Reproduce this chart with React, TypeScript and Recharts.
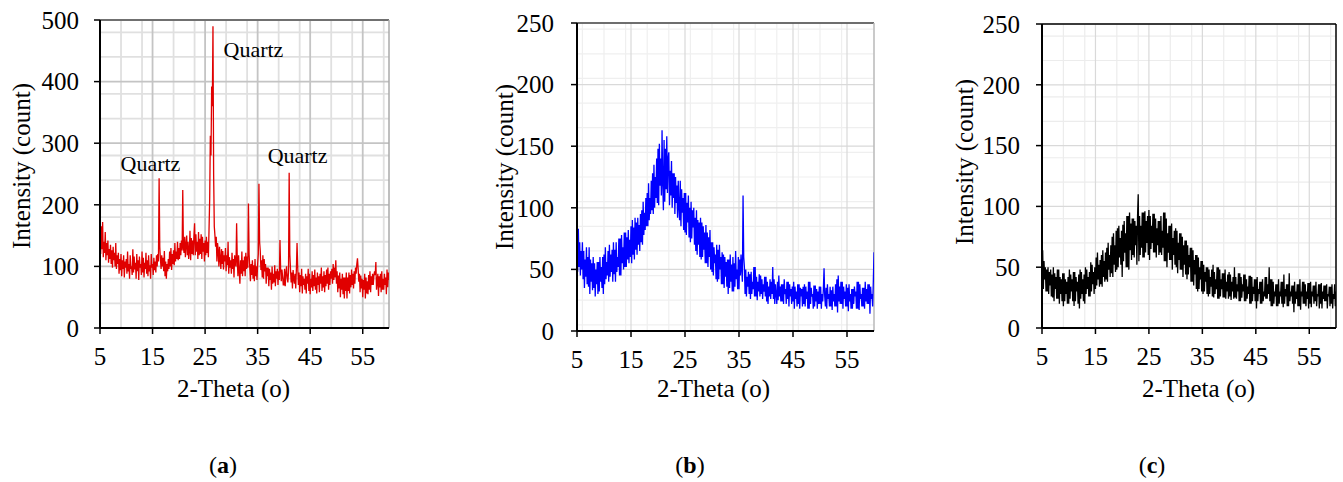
import {
  LineChart,
  Line,
  XAxis,
  YAxis,
  CartesianGrid,
  ReferenceLine,
  ReferenceDot,
  Label,
} from 'recharts';

const SERIF = '"Liberation Serif", "Times New Roman", serif';

// scan grid of the diffractometer (2-theta, degrees)
const SCAN_START = 5;
const SCAN_STEP = 0.125;

const X_TICKS = [5, 15, 25, 35, 45, 55];
const Y_TICKS_A = [0, 100, 200, 300, 400, 500];
const Y_TICKS_BC = [0, 50, 100, 150, 200, 250];

// (a) counts every 0.125 deg, one line per degree (5 .. 59), last value at 60
const INTENSITY_A = [
  150, 120, 165, 128, 172, 115, 140, 122,
  156, 110, 138, 118, 142, 106, 128, 112,
  135, 104, 126, 98, 132, 110, 122, 100,
  138, 96, 118, 104, 122, 88, 112, 94,
  120, 84, 110, 96, 118, 82, 108, 98,
  112, 88, 124, 92, 104, 80, 118, 96,
  100, 86, 128, 90, 116, 95, 106, 80,
  120, 92, 110, 78, 116, 98, 104, 86,
  124, 90, 114, 82, 106, 96, 122, 88,
  110, 84, 118, 92, 102, 80, 120, 98,
  104, 86, 114, 94, 108, 90, 118, 100,
  120, 108, 243, 132, 112, 96, 118, 100,
  114, 92, 125, 84, 108, 80, 104, 92,
  112, 96, 124, 100, 130, 94, 120, 104,
  126, 102, 138, 108, 124, 112, 140, 110,
  130, 112, 138, 118, 142, 126, 224, 130,
  122, 148, 115, 135, 150, 118, 140, 112,
  125, 158, 110, 146, 120, 142, 118, 150,
  170, 118, 152, 124, 140, 112, 156, 118,
  145, 120, 152, 112, 148, 124, 138, 108,
  142, 118, 148, 122, 140, 115, 160, 210,
  312, 280, 392, 360, 490, 250, 165, 150,
  132, 148, 108, 138, 125, 100, 132, 112,
  96, 128, 104, 125, 95, 118, 108, 130,
  92, 118, 102, 140, 88, 115, 98, 110,
  88, 122, 96, 112, 82, 118, 104, 100,
  170, 110, 84, 118, 92, 72, 110, 88,
  124, 84, 110, 92, 116, 84, 122, 96,
  116, 98, 202, 120, 98, 76, 104, 86,
  110, 80, 102, 76, 112, 84, 100, 78,
  104, 120, 234, 140, 125, 94, 110, 82,
  118, 80, 112, 92, 104, 72, 98, 84,
  98, 68, 96, 78, 90, 62, 100, 72,
  88, 74, 102, 68, 92, 80, 96, 70,
  92, 78, 143, 96, 76, 95, 84, 70,
  70, 96, 68, 88, 100, 82, 74, 90,
  252, 120, 96, 74, 90, 64, 94, 80,
  72, 88, 64, 96, 138, 100, 70, 90,
  58, 86, 68, 96, 56, 84, 70, 80,
  62, 88, 56, 84, 72, 96, 60, 88,
  55, 80, 66, 92, 60, 86, 68, 95,
  62, 82, 56, 90, 70, 84, 58, 88,
  72, 98, 60, 84, 66, 92, 58, 86,
  68, 95, 72, 98, 62, 88, 70, 92,
  80, 96, 72, 104, 78, 98, 82, 110,
  72, 92, 58, 85, 64, 90, 50, 80,
  62, 88, 55, 82, 48, 82, 60, 90,
  48, 82, 60, 90, 56, 86, 66, 95,
  70, 88, 64, 92, 72, 98, 88, 104,
  113, 96, 75, 88, 58, 85, 64, 80,
  50, 78, 62, 88, 48, 82, 56, 76,
  55, 86, 62, 92, 58, 84, 70, 88,
  70, 85, 92, 86, 107, 62, 74, 88,
  52, 84, 66, 88, 58, 92, 62, 80,
  62, 88, 70, 82, 55, 95, 66, 90,
  78,
];

// (b)
const INTENSITY_B = [
  68, 48, 83, 52, 72, 45, 65, 50,
  72, 42, 65, 35, 58, 44, 68, 38,
  60, 36, 68, 30, 58, 40, 55, 33,
  60, 35, 55, 28, 50, 38, 56, 30,
  56, 32, 60, 40, 52, 35, 60, 30,
  62, 38, 68, 42, 56, 45, 65, 40,
  70, 44, 62, 48, 66, 40, 72, 46,
  66, 40, 72, 48, 60, 52, 75, 45,
  75, 45, 78, 55, 68, 50, 80, 52,
  80, 52, 76, 58, 82, 55, 74, 60,
  85, 55, 90, 62, 84, 58, 92, 66,
  88, 62, 92, 70, 86, 65, 95, 72,
  98, 70, 105, 78, 96, 82, 108, 85,
  112, 85, 120, 90, 108, 95, 122, 98,
  128, 95, 135, 100, 125, 108, 140, 104,
  148, 102, 152, 118, 140, 110, 163, 120,
  98, 155, 105, 148, 115, 158, 112, 140,
  145, 102, 130, 110, 138, 100, 128, 108,
  128, 95, 125, 104, 118, 92, 122, 100,
  90, 122, 85, 115, 96, 108, 82, 112,
  80, 112, 78, 104, 88, 110, 76, 100,
  72, 105, 75, 98, 84, 100, 70, 92,
  65, 98, 62, 90, 70, 88, 60, 92,
  58, 88, 60, 85, 66, 80, 55, 86,
  55, 80, 52, 76, 60, 82, 50, 72,
  48, 72, 45, 68, 55, 62, 42, 70,
  40, 66, 42, 70, 50, 60, 38, 64,
  38, 62, 35, 60, 44, 56, 36, 58,
  30, 58, 35, 62, 40, 54, 32, 60,
  32, 55, 36, 65, 42, 50, 34, 60,
  34, 58, 45, 62, 50, 40, 110, 60,
  52, 30, 50, 28, 44, 36, 48, 30,
  46, 26, 48, 30, 40, 34, 52, 28,
  52, 28, 44, 25, 40, 32, 46, 28,
  45, 30, 42, 26, 38, 32, 44, 28,
  44, 24, 40, 22, 36, 28, 42, 26,
  40, 30, 52, 26, 42, 22, 38, 30,
  22, 40, 25, 45, 28, 36, 24, 38,
  24, 38, 22, 42, 30, 34, 22, 40,
  26, 40, 20, 38, 28, 34, 22, 36,
  24, 40, 18, 36, 26, 32, 20, 38,
  22, 38, 18, 35, 28, 34, 20, 36,
  22, 38, 20, 36, 26, 32, 18, 40,
  18, 40, 22, 35, 28, 30, 18, 37,
  20, 37, 24, 34, 18, 32, 22, 36,
  22, 36, 18, 30, 24, 34, 51, 28,
  20, 35, 18, 38, 26, 30, 20, 36,
  20, 33, 17, 36, 24, 30, 20, 38,
  20, 42, 15, 45, 24, 36, 22, 40,
  22, 40, 18, 36, 26, 32, 20, 38,
  20, 35, 16, 38, 24, 30, 18, 34,
  18, 34, 22, 36, 28, 32, 18, 40,
  18, 40, 17, 38, 26, 30, 20, 35,
  20, 35, 18, 40, 24, 34, 22, 38,
  22, 38, 14, 36, 26, 30, 20, 40,
  64,
];

// (c)
const INTENSITY_C = [
  45, 64, 32, 55, 40, 50, 30, 48,
  30, 50, 28, 46, 35, 48, 26, 44,
  25, 50, 22, 45, 32, 42, 24, 48,
  24, 48, 20, 42, 28, 40, 22, 45,
  18, 45, 22, 40, 28, 38, 20, 42,
  20, 48, 24, 44, 30, 40, 22, 46,
  18, 46, 22, 42, 30, 38, 20, 44,
  16, 48, 24, 46, 28, 40, 22, 44,
  20, 50, 28, 48, 32, 42, 26, 46,
  26, 54, 30, 52, 36, 46, 28, 50,
  32, 58, 35, 62, 40, 52, 34, 56,
  36, 60, 34, 64, 42, 55, 38, 62,
  40, 66, 38, 70, 48, 60, 42, 68,
  45, 75, 42, 78, 52, 68, 46, 80,
  48, 82, 50, 84, 58, 74, 52, 80,
  42, 85, 55, 88, 62, 78, 50, 92,
  50, 92, 48, 95, 64, 86, 56, 90,
  60, 90, 58, 88, 68, 84, 52, 92,
  110, 55, 92, 60, 84, 66, 95, 58,
  95, 58, 96, 62, 88, 70, 92, 60,
  97, 56, 92, 65, 84, 70, 94, 62,
  94, 62, 90, 58, 82, 68, 88, 60,
  88, 62, 92, 60, 80, 66, 95, 55,
  95, 55, 90, 50, 78, 62, 84, 56,
  84, 56, 86, 48, 74, 60, 80, 52,
  82, 50, 80, 45, 70, 56, 78, 48,
  78, 48, 75, 42, 68, 52, 72, 44,
  72, 40, 68, 44, 60, 50, 66, 38,
  66, 38, 64, 35, 56, 44, 60, 32,
  60, 30, 58, 32, 50, 40, 55, 30,
  55, 28, 52, 30, 46, 38, 50, 28,
  50, 26, 48, 28, 42, 34, 48, 26,
  52, 25, 46, 28, 40, 32, 50, 24,
  50, 24, 48, 26, 40, 32, 45, 25,
  45, 25, 48, 24, 38, 30, 44, 24,
  46, 26, 44, 23, 38, 30, 42, 24,
  50, 25, 42, 24, 36, 30, 45, 22,
  45, 22, 42, 25, 36, 30, 44, 22,
  44, 22, 40, 24, 34, 28, 43, 20,
  43, 20, 42, 22, 34, 28, 40, 22,
  40, 16, 42, 22, 32, 28, 38, 20,
  38, 20, 40, 22, 30, 26, 42, 24,
  42, 24, 36, 28, 50, 22, 40, 18,
  40, 18, 38, 20, 30, 26, 36, 18,
  36, 18, 40, 20, 30, 26, 38, 20,
  38, 17, 44, 20, 32, 26, 36, 18,
  36, 18, 45, 22, 30, 26, 35, 20,
  35, 13, 38, 20, 30, 24, 36, 18,
  36, 18, 40, 15, 30, 26, 38, 20,
  38, 20, 36, 18, 30, 24, 37, 16,
  37, 20, 38, 17, 30, 26, 35, 20,
  35, 22, 38, 18, 28, 26, 36, 16,
  36, 20, 37, 16, 30, 24, 35, 22,
  35, 22, 36, 16, 28, 26, 34, 18,
  34, 20, 36, 16, 28, 24, 36, 18,
  30,
];

const QUARTZ_X = [14.6, 34.2, 42.6];
const QUARTZ_Y = [268, 452, 281];

const toRows = (ys: number[]) =>
  ys.map((y, i) => ({ x: SCAN_START + i * SCAN_STEP, y }));

const steps = (from: number, to: number, step: number) => {
  const out: number[] = [];
  for (let v = from; v <= to + 1e-9; v += step) out.push(v);
  return out;
};

interface PanelProps {
  left: number;
  width: number;
  plotTop: number;
  plotBottom: number;
  yAxisWidth: number;
  marginRight: number;
  tickMargin: number;
  values: number[];
  color: string;
  yMax: number;
  yTicks: number[];
  minorXStep: number;
  minorYStep: number;
  majorYStep: number;
  minorStroke: string;
  majorStroke: string;
  hStroke: string;
  gridWidth: number;
  frameTop: string;
  frameRight: string;
  yTitle: { x: number; y: number };
  xTitleX: number;
  quartz?: boolean;
}

function XrdPanel(p: PanelProps) {
  const data = toRows(p.values);
  const minorX = steps(5, 60, p.minorXStep).filter((v) => (v - 5) % 10 !== 0);
  const minorY = steps(0, p.yMax, p.minorYStep).filter((v) => v % p.majorYStep !== 0);
  const majorY = steps(0, p.yMax, p.majorYStep);
  const tickStyle = { fontSize: 25, fontFamily: SERIF, fill: '#000' };

  return (
    <div style={{ position: 'absolute', left: p.left, top: 0, fontFamily: SERIF }}>
      <LineChart
        width={p.width}
        height={482}
        data={data}
        style={{ fontFamily: SERIF }}
        margin={{ top: p.plotTop, right: p.marginRight, bottom: 0, left: 0 }}
      >
        <CartesianGrid
          stroke={p.minorStroke}
          strokeWidth={p.gridWidth}
          verticalValues={minorX}
          horizontalValues={minorY}
          horizontal={{ stroke: p.hStroke }}
        />
        <CartesianGrid
          stroke={p.majorStroke}
          strokeWidth={p.gridWidth}
          verticalValues={X_TICKS}
          horizontalValues={majorY}
        />
        <ReferenceLine y={p.yMax} stroke={p.frameTop} strokeWidth={1.5} />
        <ReferenceLine x={60} stroke={p.frameRight} strokeWidth={1.5} />
        <XAxis
          type="number"
          dataKey="x"
          domain={[5, 60]}
          ticks={X_TICKS}
          allowDataOverflow
          height={482 - p.plotBottom}
          tick={tickStyle}
          tickSize={6}
          tickMargin={13}
          axisLine={{ stroke: '#000', strokeWidth: 2 }}
          tickLine={{ stroke: '#000', strokeWidth: 1.5 }}
        >
          <Label
            content={() => (
              <text x={p.xTitleX} y={397} textAnchor="middle" fontFamily={SERIF} fontSize={25} fill="#000">
                2-Theta (o)
              </text>
            )}
          />
        </XAxis>
        <YAxis
          type="number"
          domain={[0, p.yMax]}
          ticks={p.yTicks}
          allowDataOverflow
          width={p.yAxisWidth}
          tick={tickStyle}
          tickSize={6}
          tickMargin={p.tickMargin}
          axisLine={{ stroke: '#000', strokeWidth: 2 }}
          tickLine={{ stroke: '#000', strokeWidth: 1.5 }}
        >
          <Label
            content={() => (
              <text
                x={p.yTitle.x}
                y={p.yTitle.y}
                transform={`rotate(-90 ${p.yTitle.x} ${p.yTitle.y})`}
                textAnchor="middle"
                dominantBaseline="central"
                fontFamily={SERIF}
                fontSize={25}
                fill="#000"
              >
                Intensity (count)
              </text>
            )}
          />
        </YAxis>
        <Line
          type="linear"
          dataKey="y"
          stroke={p.color}
          strokeWidth={1.3}
          dot={false}
          isAnimationActive={false}
        />
        {p.quartz &&
          QUARTZ_X.map((qx, i) => (
            <ReferenceDot
              key={i}
              x={qx}
              y={QUARTZ_Y[i]}
              r={1}
              fill="none"
              stroke="none"
              label={{ value: 'Quartz', position: 'center', fontSize: 22, fontFamily: SERIF, fill: '#000' }}
            />
          ))}
      </LineChart>
    </div>
  );
}

const subStyle = (center: number): React.CSSProperties => ({
  position: 'absolute',
  left: center - 50,
  width: 100,
  top: 452,
  textAlign: 'center',
  fontFamily: SERIF,
  fontSize: 24,
  lineHeight: '27px',
  color: '#000',
});

export default function App() {
  return (
    <div
      style={{
        position: 'absolute',
        left: 0,
        top: 0,
        width: 1343,
        height: 482,
        background: '#fff',
        fontFamily: SERIF,
      }}
    >
      <XrdPanel
        left={0}
        width={400}
        plotTop={20}
        plotBottom={328}
        yAxisWidth={100}
        marginRight={11}
        tickMargin={15}
        values={INTENSITY_A}
        color="#e00000"
        yMax={500}
        yTicks={Y_TICKS_A}
        minorXStep={2}
        minorYStep={20}
        majorYStep={100}
        minorStroke="#e0e0e0"
        majorStroke="#c4c4c4"
        hStroke="#c4c4c4"
        gridWidth={1.8}
        frameTop="#555"
        frameRight="#aaa"
        yTitle={{ x: 21, y: 166 }}
        xTitleX={233.5}
        quartz
      />
      <XrdPanel
        left={470}
        width={410}
        plotTop={23}
        plotBottom={331}
        yAxisWidth={107}
        marginRight={6}
        tickMargin={17}
        values={INTENSITY_B}
        color="#0000ff"
        yMax={250}
        yTicks={Y_TICKS_BC}
        minorXStep={1}
        minorYStep={5}
        majorYStep={50}
        minorStroke="#efefef"
        majorStroke="#d9d9d9"
        hStroke="#efefef"
        gridWidth={1.2}
        frameTop="#444"
        frameRight="#bbb"
        yTitle={{ x: 34, y: 167 }}
        xTitleX={243.5}
      />
      <XrdPanel
        left={930}
        width={413}
        plotTop={24}
        plotBottom={328}
        yAxisWidth={112}
        marginRight={7}
        tickMargin={16}
        values={INTENSITY_C}
        color="#000000"
        yMax={250}
        yTicks={Y_TICKS_BC}
        minorXStep={2}
        minorYStep={10}
        majorYStep={50}
        minorStroke="#ececec"
        majorStroke="#d9d9d9"
        hStroke="#ececec"
        gridWidth={1.2}
        frameTop="#000"
        frameRight="#000"
        yTitle={{ x: 34, y: 162 }}
        xTitleX={268.5}
      />
      <div style={subStyle(223)}>(<b>a</b>)</div>
      <div style={subStyle(690)}>(<b>b</b>)</div>
      <div style={subStyle(1152)}>(<b>c</b>)</div>
    </div>
  );
}
